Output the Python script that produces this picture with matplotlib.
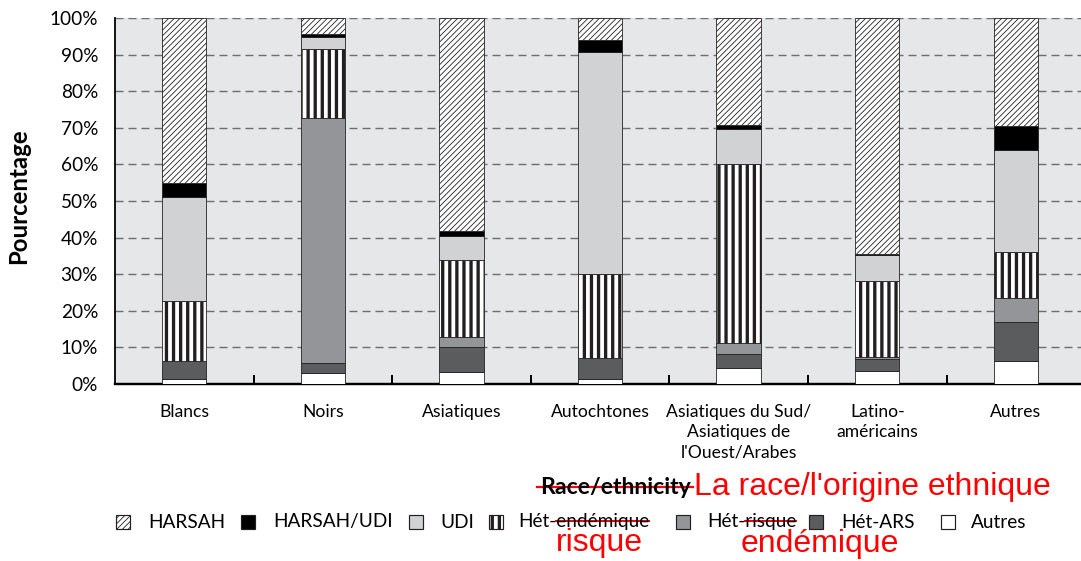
"""Stacked bar chart: HIV exposure category by race/ethnicity (French labels)."""

import numpy as np
import matplotlib
matplotlib.use("Agg")
import matplotlib.pyplot as plt
from matplotlib.patches import Rectangle
from matplotlib.lines import Line2D
from matplotlib.font_manager import FontProperties

# ── data (percent, bottom -> top) ──
categories = ["Blancs", "Noirs", "Asiatiques", "Autochtones",
              "Asiatiques du Sud/\nAsiatiques de\nl'Ouest/Arabes",
              "Latino-\naméricains", "Autres"]
autres        = [1.4, 3.1, 3.4, 1.3, 4.3, 3.6, 6.4]
het_ars       = [5.0, 2.6, 6.8, 5.7, 3.9, 3.1, 10.6]
het_risque    = [0.0, 66.9, 2.7, 0.0, 3.1, 0.8, 6.4]
het_endemique = [16.4, 18.9, 21.0, 23.1, 48.9, 20.7, 12.8]
udi           = [28.2, 3.2, 6.6, 60.5, 9.4, 7.1, 27.6]
harsah_udi    = [3.9, 0.9, 1.3, 3.3, 1.1, 0.3, 6.7]
harsah        = [45.1, 4.4, 58.2, 6.1, 29.3, 64.4, 29.5]

series_labels = ["Autres", "Hét-ARS", "Hét-risque", "Hét-endémique",
                 "UDI", "HARSAH/UDI", "HARSAH"]
yticks = list(range(0, 101, 10))

# ── style ──
DPI = 85
W, H = 1081, 561
BG = "#e6e7e8"
EDGE = "#231f20"
GRID = "#6d6e70"
RED = "#ff0000"
FONT = "Lato"

# (face colour, hatch, hatch linewidth in pt) per series
STYLE = {
    "Autres":        ("white",   "",      0.6),
    "Hét-ARS":       ("#5b5c5e", "",      0.6),
    "Hét-risque":    ("#949598", "",      0.6),
    "Hét-endémique": ("white",   "||",    2.8),
    "UDI":           ("#d1d2d4", "",      0.6),
    "HARSAH/UDI":    ("black",   "",      0.6),
    "HARSAH":        ("white",   "/////", 0.7),
}


def pt(px):
    """pixel size -> points at the figure dpi"""
    return px * 72.0 / DPI


def fx(px):
    return px / W


def fy(py):
    return 1.0 - py / H


plt.rcParams["lines.scale_dashes"] = False

fig = plt.figure(figsize=(W / DPI, H / DPI), dpi=DPI)
fig.patch.set_facecolor("white")
ax = fig.add_axes([fx(115), 1 - 384 / H, fx(1081) - fx(115), 366 / H])
ax.set_facecolor(BG)

x = np.arange(len(categories))
stack = [autres, het_ars, het_risque, het_endemique, udi, harsah_udi, harsah]
bottom = np.zeros(len(categories))
for lab, vals in zip(series_labels, stack):
    fc, hatch, hlw = STYLE[lab]
    # patches pick up hatch.linewidth when they are created
    with plt.rc_context({"hatch.linewidth": hlw}):
        ax.bar(x, vals, bottom=bottom, width=0.32, color=fc, edgecolor=EDGE,
               linewidth=0.7, hatch=hatch or None, zorder=3)
    bottom += np.asarray(vals)

ax.set_xlim(-0.5, 6.47)
ax.set_ylim(0, 100)
ax.set_yticks(yticks)
ax.set_yticklabels([f"{v}%" for v in yticks])
ax.yaxis.grid(True, color=GRID, lw=1.2, linestyle=(0, (pt(8), pt(5))), zorder=1)
ax.set_axisbelow(True)

ax.set_xticks(x)
ax.set_xticklabels(categories, linespacing=1.32)
ax.set_xticks(x[:-1] + 0.5, minor=True)
ax.tick_params(axis="x", which="major", length=0, pad=pt(20),
               labelsize=pt(17.5))
ax.tick_params(axis="x", which="minor", direction="in", length=pt(9),
               width=pt(2), color="black")
ax.tick_params(axis="y", length=0, pad=pt(17), labelsize=pt(19))
for t in ax.get_xticklabels() + ax.get_yticklabels():
    t.set_family(FONT)
    t.set_color("black")

for s in ("top", "right"):
    ax.spines[s].set_visible(False)
ax.spines["left"].set_linewidth(pt(1.8))
ax.spines["bottom"].set_linewidth(pt(2.4))
ax.spines["left"].set_color("black")
ax.spines["bottom"].set_color("black")

fig.text(fx(19), fy(196), "Pourcentage", rotation=90, ha="center",
         va="center", fontsize=pt(24), fontweight="bold", family=FONT)

# ── x axis title with red correction ──
fig.text(fx(691), fy(488), "Race/ethnicity", ha="right", va="center",
         fontsize=pt(23), fontweight="bold", family=FONT)
fig.text(fx(694), fy(487), "La race/l'origine ethnique", ha="left",
         va="center", fontsize=pt(32), family="Liberation Sans", color=RED)
fig.add_artist(Line2D([fx(537), fx(693)], [fy(487), fy(487)], color=RED,
                      lw=pt(2.2), transform=fig.transFigure))

# ── legend, laid out by hand (gaps are irregular in the source) ──
legend_items = ["HARSAH", "HARSAH/UDI", "UDI", "Hét-endémique",
                "Hét-risque", "Hét-ARS", "Autres"]
patch_x = [116, 241, 409, 489, 676, 809, 941]
text_x = [148, 273, 440, 518, 707, 841, 971]
LEG_Y = 522
BOX = 14
leg_font = FontProperties(family=FONT, size=pt(19))
texts = {}
for lab, px0, tx0 in zip(legend_items, patch_x, text_x):
    fc, hatch, hlw = STYLE[lab]
    with plt.rc_context({"hatch.linewidth": hlw}):
        r = Rectangle((fx(px0), fy(LEG_Y + BOX / 2)), fx(BOX), BOX / H,
                      transform=fig.transFigure, facecolor=fc, edgecolor=EDGE,
                      linewidth=1.0, hatch=hatch or None)
    fig.add_artist(r)
    texts[lab] = fig.text(fx(tx0), fy(LEG_Y), lab, ha="left", va="center",
                          fontproperties=leg_font)

# strike-through over the wrong half of the two "Hét-" labels
renderer = fig.canvas.get_renderer()
prefix_w = renderer.get_text_width_height_descent("Hét-", leg_font, ismath=False)[0]
for lab in ("Hét-endémique", "Hét-risque"):
    bb = texts[lab].get_window_extent(renderer)
    fig.add_artist(Line2D([(bb.x0 + prefix_w) / W, bb.x1 / W],
                          [fy(LEG_Y - 1), fy(LEG_Y - 1)], color=RED,
                          lw=pt(2.0), transform=fig.transFigure))

fig.text(fx(599), fy(543), "risque", ha="center", va="center",
         fontsize=pt(32), family="Liberation Sans", color=RED)
fig.text(fx(820), fy(544), "endémique", ha="center", va="center",
         fontsize=pt(32), family="Liberation Sans", color=RED)

fig.savefig("out.png", dpi=DPI, facecolor="white")
plt.close(fig)
